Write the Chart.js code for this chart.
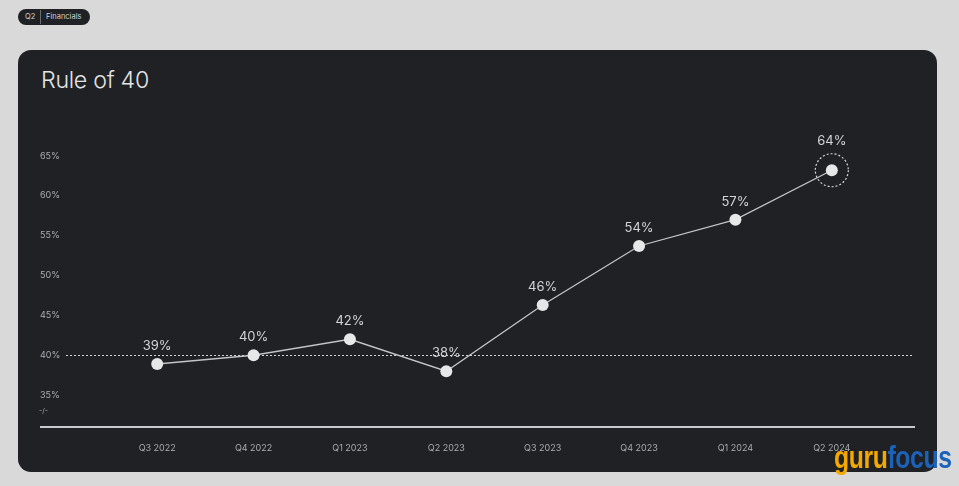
<!DOCTYPE html>
<html>
<head>
<meta charset="utf-8">
<script src="https://cdn.jsdelivr.net/npm/chart.js@4/dist/chart.umd.min.js"></script>
<style>
  html, body { margin: 0; padding: 0; }
  body { width: 959px; height: 486px; background: #d9d9d9; position: relative; overflow: hidden; font-family: Inter, "Noto Sans", sans-serif; }
  .badge { position: absolute; left: 18px; top: 9px; height: 16px; width: 72px; background: #1f2124; border-radius: 8px; color: #cfd1d3; font-size: 7.5px; line-height: 16px; }
  .badge .q { position: absolute; left: 7px; top: 0; }
  .badge .div { position: absolute; left: 22px; top: 1px; width: 1px; height: 14px; background: #6a6c6f; }
  .badge .f { position: absolute; left: 28px; top: 0; }
  .card { position: absolute; left: 18px; top: 50px; width: 919px; height: 422px; background: #1f2124; border-radius: 13px; }
  .title { position: absolute; left: 23px; top: 16px; color: #e4e5e6; font-size: 23.2px; font-weight: 300; letter-spacing: -0.3px; }
  canvas { position: absolute; left: 0; top: 0; }
  .wm { position: absolute; left: 834px; top: 442px; font-family: "Liberation Sans", Arial, sans-serif; font-size: 31px; line-height: 1; font-weight: bold; letter-spacing: -0.5px; transform: scaleX(0.80); transform-origin: left top; white-space: nowrap; }
  .wm .g { color: #f4a900; }
  .wm .f { color: #1b62b8; }
</style>
</head>
<body>
<div class="badge"><span class="q">Q2</span><span class="div"></span><span class="f">Financials</span></div>
<div class="card">
  <div class="title">Rule of 40</div>
  <canvas id="c" width="919" height="422"></canvas>
</div>
<div class="wm"><span class="g">guru</span><span class="f">focus</span></div>
<script>
const categories = ["Q3 2022", "Q4 2022", "Q1 2023", "Q2 2023", "Q3 2023", "Q4 2023", "Q1 2024", "Q2 2024"];
const ruleOf40 = [38.9, 40.0, 42.0, 38.0, 46.3, 53.7, 57.0, 63.2];
const pointLabels = ["39%", "40%", "42%", "38%", "46%", "54%", "57%", "64%"];
const yTickValues = [35, 40, 45, 50, 55, 60, 65];
const thresholdValue = 40;

const overlay = {
  id: 'overlay',
  beforeDatasetsDraw(chart) {
    const ctx = chart.ctx, y = chart.scales.y, a = chart.chartArea;
    const yl = y.left;
    ctx.save();
    const ty = Math.round(y.getPixelForValue(thresholdValue)) + 0.5;
    ctx.strokeStyle = '#cfd0d2';
    ctx.lineWidth = 1;
    ctx.setLineDash([2, 2]);
    ctx.beginPath();
    ctx.moveTo(yl + 26, ty);
    ctx.lineTo(yl + 873, ty);
    ctx.stroke();
    ctx.setLineDash([]);
    ctx.strokeStyle = '#c9cacc';
    ctx.lineWidth = 2;
    ctx.beginPath();
    ctx.moveTo(yl, a.bottom);
    ctx.lineTo(yl + 875, a.bottom);
    ctx.stroke();
    ctx.fillStyle = '#a9acb0';
    ctx.font = '7px Inter, sans-serif';
    ctx.textAlign = 'left';
    ctx.textBaseline = 'middle';
    ctx.fillText('-/-', yl - 1, y.getPixelForValue(33));
    ctx.restore();
  },
  afterDatasetsDraw(chart) {
    const ctx = chart.ctx;
    const meta = chart.getDatasetMeta(0);
    const last = meta.data.length - 1;
    ctx.save();
    const lp = meta.data[last];
    ctx.strokeStyle = '#d6d7d8';
    ctx.lineWidth = 1.2;
    ctx.setLineDash([2, 2]);
    ctx.beginPath();
    ctx.arc(lp.x, lp.y, 16.5, 0, Math.PI * 2);
    ctx.stroke();
    ctx.setLineDash([]);
    ctx.fillStyle = '#d3d4d6';
    ctx.font = '13px Inter, sans-serif';
    ctx.textAlign = 'center';
    ctx.textBaseline = 'middle';
    meta.data.forEach((p, i) => {
      const off = i === last ? 29 : 18;
      ctx.fillText(pointLabels[i], p.x, p.y - off);
    });
    ctx.restore();
  }
};

new Chart(document.getElementById('c'), {
  type: 'line',
  data: {
    labels: categories,
    datasets: [{
      data: ruleOf40,
      borderColor: '#c4c5c7',
      borderWidth: 1.3,
      pointRadius: 6,
      pointHoverRadius: 6,
      pointBackgroundColor: '#e6e7e8',
      pointBorderColor: '#e6e7e8',
      pointBorderWidth: 0,
      tension: 0,
      fill: false
    }]
  },
  options: {
    responsive: false,
    animation: false,
    events: [],
    layout: { padding: { left: 22, right: 57, top: 66, bottom: 0 } },
    plugins: { legend: { display: false }, tooltip: { enabled: false } },
    scales: {
      x: {
        offset: true,
        grid: { display: false, drawTicks: false },
        border: { display: false },
        ticks: { color: '#a9adb1', font: { family: 'Inter', size: 9 }, padding: 16, maxRotation: 0 },
        afterFit(s) { s.height = 45; }
      },
      y: {
        min: 31, max: 70,
        grid: { display: false, drawTicks: false },
        border: { display: false },
        afterBuildTicks(s) { s.ticks = yTickValues.map(v => ({ value: v })); },
        ticks: {
          color: '#a9adb1', font: { family: 'Inter', size: 9 }, crossAlign: 'far',
          callback: v => v + '%'
        },
        afterFit(s) { s.width = 69; }
      }
    }
  },
  plugins: [overlay]
});
</script>
</body>
</html>
